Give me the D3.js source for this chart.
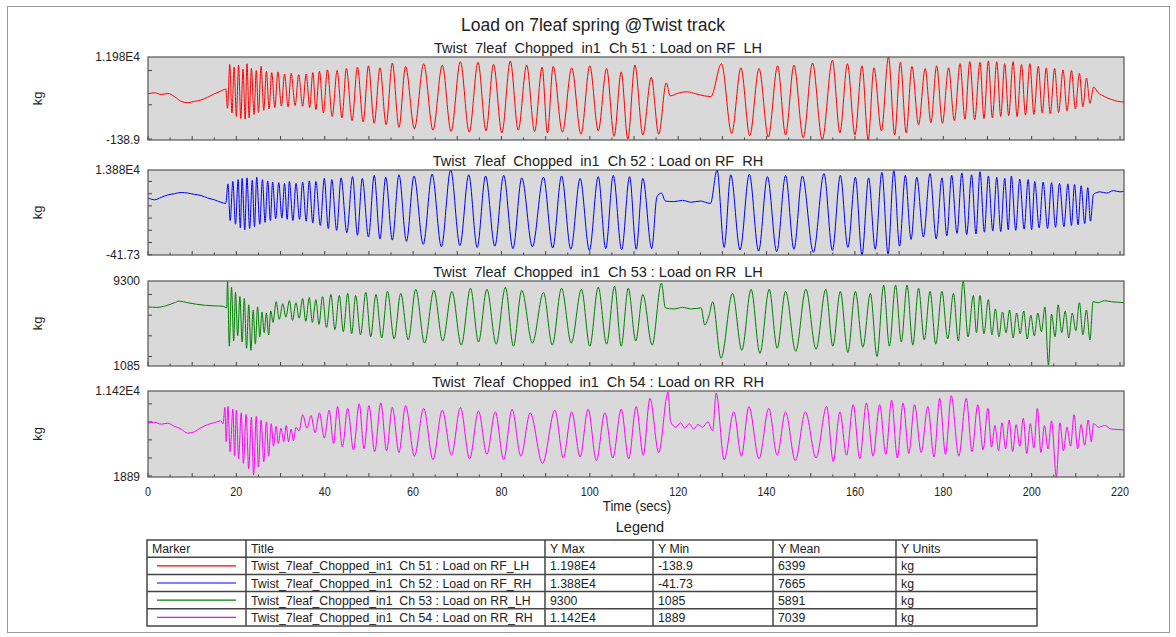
<!DOCTYPE html>
<html>
<head>
<meta charset="utf-8">
<script src="https://cdn.jsdelivr.net/npm/d3@7"></script>
<style>
body { margin: 0; background: #fff; }
text { font-family: "Liberation Sans", Arial, sans-serif; fill: #222; }
</style>
</head>
<body>
<svg id="chart" width="1176" height="637"></svg>
<script>
// ---- data (time in s, load in kg) ----
var chartTitle = "Load on 7leaf spring @Twist track";
var subTitles = [
    "Twist  7leaf  Chopped  in1  Ch 51 : Load on RF  LH",
    "Twist  7leaf  Chopped  in1  Ch 52 : Load on RF  RH",
    "Twist  7leaf  Chopped  in1  Ch 53 : Load on RR  LH",
    "Twist  7leaf  Chopped  in1  Ch 54 : Load on RR  RH"
];
var legendTitles = [
    "Twist_7leaf_Chopped_in1  Ch 51 : Load on RF_LH",
    "Twist_7leaf_Chopped_in1  Ch 52 : Load on RF_RH",
    "Twist_7leaf_Chopped_in1  Ch 53 : Load on RR_LH",
    "Twist_7leaf_Chopped_in1  Ch 54 : Load on RR_RH"
];
var yMax = [11980, 13880, 9300, 11420];
var yMin = [-138.9, -41.73, 1085, 1889];
var yMaxText = ["1.198E4", "1.388E4", "9300", "1.142E4"];
var yMinText = ["-138.9", "-41.73", "1085", "1889"];
var yMeanText = ["6399", "7665", "5891", "7039"];
var yUnits = ["kg", "kg", "kg", "kg"];
var xTicks = [0, 20, 40, 60, 80, 100, 120, 140, 160, 180, 200, 220];
var legendHeader = ["Marker", "Title", "Y Max", "Y Min", "Y Mean", "Y Units"];

var rfLH = [[0,6600],[1.5,6750],[3,6500],[4.5,6650],[6,6200],[7.5,5500],[9,5300],[10.5,5500],[12,5700],[13.5,6100],[15,6600],[16.5,7000],[17.6,7300],
[18.0,4500],[18.5,10900],[19.0,3800],[19.5,10500],[20.0,3300],[20.5,10800],[21.0,3000],[21.5,10200],[22.0,2900],[22.4,11000],[22.9,3100],[23.4,10300],[24.0,3600],[24.5,10000],[25.0,3900],[25.6,10600],[26.2,4200],[26.8,9900],[27.4,4400],[28.0,9700],[28.7,4600],[29.4,9800],[30.2,4800],[30.9,9500],[31.7,4700],[32.4,9600],[33.3,4900],[34.1,9400],[35.0,4800],[35.8,9500],[36.6,4600],[37.3,9700],[38.0,4300],[38.8,9900],[39.7,3800],[40.6,10100],[41.7,3300],[42.8,10000],[43.9,3100],[44.9,10300],[46.2,2700],[47.4,10500],[48.7,2500],[49.9,10700],[51.2,2300],[52.5,10400],[53.9,2100],[55.3,11100],[56.8,1700],[58.3,10600],[60.3,1500],[62.4,11000],[64.5,1300],[66.6,10800],[68.6,1100],[70.7,11300],[72.7,1000],[74.7,11200],[76.5,1200],[78.2,10900],[80.1,900],[82.0,11400],[83.8,1300],[85.7,10800],[87.5,1100],[89.2,10500],[90.4,900],[91.7,10600],[93.8,1000],[95.9,10400],[98.0,700],[100.0,10700],[101.9,1200],[103.8,10300],[105.5,400],[107.1,9800],[108.6,0],[110.2,10800],[112.0,600],[113.9,9000],[115.6,700],[117.3,8200],[118.2,6300],[120,6700],[122,6900],[124,6600],[126,6300],[127.4,6200],
[129.8,11000],[132.1,800],[134.2,10400],[136.2,500],[138.3,10300],[140.4,300],[142.5,10700],[144.3,600],[146.2,10800],[148.3,200],[150.4,11100],[152.6,-100],[154.9,11500],[156.6,900],[158.3,11000],[160.0,600],[161.6,10700],[163.0,-139],[164.3,10400],[166.0,1200],[167.6,11980],[169.0,600],[170.3,11200],[171.6,900],[172.9,10600],[174.4,2100],[175.9,10300],[177.2,2400],[178.5,10700],[179.8,2300],[181.2,10400],[182.5,2700],[183.8,11000],[184.9,2900],[186.0,11300],[187.1,2800],[188.3,11200],[189.2,3000],[190.2,11400],[191.1,3100],[192.1,11300],[193.0,3300],[193.9,11000],[194.8,3400],[195.8,11300],[196.7,3300],[197.7,10900],[198.6,3500],[199.6,11000],[200.5,3600],[201.5,10600],[202.4,3800],[203.3,10400],[204.2,3700],[205.2,10300],[206.1,3900],[207.1,10100],[208.0,4100],[209.0,10000],[209.9,4400],[210.8,9600],[211.6,4700],[212.4,8900],[213.2,5200],[214,7600],[215,6800],[216.5,6200],[218,5800],[219.5,5500],[221,5400]];

var rfRH = [[0,9300],[1.5,9000],[3,9400],[4.5,9800],[6,10000],[7.5,10200],[9,10100],[10.5,9900],[12,9700],[13.5,9300],[15,9000],[16.5,8600],[17.6,8400],
[18.1,11600],[18.6,5600],[19.2,12000],[19.8,5000],[20.4,12300],[20.9,4400],[21.3,12500],[21.9,4100],[22.4,12600],[23.0,4300],[23.6,12200],[24.1,4600],[24.6,12700],[25.3,5000],[25.9,12300],[26.5,5300],[27.1,12100],[27.7,5600],[28.2,11900],[28.9,5900],[29.6,11800],[30.3,6000],[30.9,11700],[31.5,5800],[32.0,12000],[32.8,5600],[33.5,11700],[34.3,5800],[35.0,11900],[35.8,5500],[36.5,12100],[37.3,5200],[38.0,12000],[39.0,4800],[39.9,12500],[40.8,4300],[41.6,12300],[42.7,4000],[43.7,12600],[45.0,3600],[46.3,12800],[47.4,3200],[48.5,12500],[49.9,2900],[51.2,13000],[52.5,2600],[53.8,12700],[55.3,2400],[56.8,13100],[58.5,2200],[60.2,12900],[62.3,1700],[64.3,13200],[66.4,1300],[68.5,13900],[70.6,1500],[72.6,13100],[74.5,1200],[76.4,12900],[78.5,1400],[80.5,13000],[82.6,1000],[84.6,12600],[87.0,1300],[89.5,12700],[91.6,1100],[93.6,12900],[95.7,900],[97.8,12500],[99.9,700],[101.9,12800],[103.6,1000],[105.3,13000],[107.2,800],[109.0,12800],[110.5,900],[112.0,12500],[114.0,1000],[115.2,9500],[116.2,10100],[117.1,8800],[119,8700],[121,8900],[123,8600],[125,8800],[127.3,8400],
[128.8,13880],[130.4,1200],[131.9,13100],[134.0,800],[136.1,13200],[138.2,600],[140.2,12800],[142.3,500],[144.3,13000],[146.2,900],[148.1,12900],[150.6,400],[153.0,13300],[154.9,700],[156.7,13000],[158.4,1200],[160.1,12700],[161.6,-42],[163.1,12600],[164.6,900],[166.1,13500],[167.5,100],[168.8,13800],[170.1,1400],[171.4,13000],[172.7,2500],[174.0,12700],[175.5,2900],[177.0,13300],[178.4,2600],[179.7,12600],[180.8,3100],[181.9,13000],[183.1,3500],[184.2,13400],[185.3,3300],[186.4,13100],[187.4,3400],[188.3,13600],[189.3,3700],[190.2,12900],[191.2,3900],[192.1,12700],[193.0,3800],[193.9,12500],[194.7,4100],[195.4,12900],[196.4,4000],[197.3,12400],[198.3,4200],[199.2,12300],[200.0,4100],[200.7,12000],[201.7,4400],[202.6,11900],[203.6,4300],[204.5,11800],[205.4,4500],[206.3,11700],[207.3,4600],[208.2,11600],[209.0,4800],[209.7,11500],[210.5,4900],[211.2,11300],[212.0,5100],[212.7,11000],[213.3,5500],[214.0,9900],[215.5,10300],[217,10100],[218.5,10500],[220,10300],[221,10400]];

var rrLH = [[0,6800],[2,6750],[4,6900],[6,7200],[7,7350],[9,7200],[11,7050],[13,6950],[15,6900],[17,6850],[17.8,6700],
[18.0,9300],[18.4,3000],[18.9,8700],[19.4,3500],[19.8,8200],[20.3,4000],[20.8,7800],[21.3,3400],[21.8,7600],[22.3,2800],[22.8,7000],[23.3,2600],[23.8,6500],[24.3,3200],[24.8,6800],[25.3,3900],[25.8,6300],[26.3,4300],[26.8,6200],[27.3,4100],[27.8,6400],[28.3,5300],[29.0,7300],[29.7,5600],[30.5,7100],[31.2,5800],[32.0,7400],[32.7,5500],[33.5,7200],[34.2,5700],[35.0,7600],[35.7,5400],[36.5,7700],[37.2,5300],[38.0,7500],[38.7,5100],[39.5,7800],[40.4,4800],[41.4,8000],[42.3,4600],[43.3,7900],[44.2,4400],[45.2,8100],[46.1,4200],[47.0,7900],[48.1,4100],[49.3,8200],[50.4,3900],[51.6,8000],[52.9,3800],[54.2,8300],[55.7,3700],[57.2,8100],[58.9,3600],[60.6,8500],[62.6,3300],[64.7,8400],[66.7,3500],[68.8,8300],[70.9,3100],[73.0,8600],[74.8,3400],[76.7,8500],[78.8,3200],[80.9,8700],[82.7,3000],[84.6,8400],[87.0,3300],[89.5,8200],[91.5,3100],[93.6,8600],[95.8,3300],[98.1,8500],[100.0,3000],[101.9,8700],[103.8,3200],[105.6,8800],[107.1,3000],[108.7,8600],[110.4,3500],[112.0,8000],[114.1,3100],[116.2,9100],[117.1,6700],[119,6600],[121,6750],[123,6600],[125.2,6700],[126.0,5050],[127.0,6000],[127.8,7300],[129.7,1830],[132.3,8100],[134.4,2600],[136.5,8500],[138.5,2300],[140.6,8500],[142.4,2800],[144.3,8300],[146.6,2500],[148.9,8500],[151.2,2700],[153.4,8500],[155.0,3000],[156.7,8300],[158.4,2400],[160.1,8300],[161.8,2900],[163.5,8100],[165.0,2000],[166.5,8900],[167.8,3000],[169.2,8900],[170.5,3400],[171.8,8900],[173.1,3100],[174.4,8600],[175.7,3600],[177.0,8300],[178.3,3200],[179.7,8300],[181.0,3700],[182.3,8100],[183.4,3500],[184.5,9300],[185.6,3900],[186.8,7900],[187.5,4300],[188.3,7900],[189.2,4200],[190.2,7500],
[191.0,4100],[191.8,6600],[192.6,3900],[193.4,6300],[194.2,4300],[195.0,6500],[195.8,3800],[196.6,6200],[197.4,4200],[198.2,6400],[199.0,3700],[199.8,6000],[200.6,4000],[201.4,6200],[202.2,4400],[203.0,6800],[203.8,1180],[204.5,6100],[205.3,3900],[206.0,7000],[206.8,4300],[207.6,6400],[208.4,3800],[209.2,6200],[210.0,4500],[210.8,7200],[211.6,4100],[212.4,6500],[213.2,3600],[213.9,7300],[215,7200],[216.5,7400],[218,7300],[219.5,7250],[221,7200]];

var rrRH = [[0,7850],[1.5,7950],[3,7750],[4.5,7850],[6,7500],[7.5,7200],[9,6750],[10.5,6900],[12,7350],[13.5,7700],[15,7900],[16.5,8100],[17.0,7800],
[17.4,9600],[17.7,5800],[18.1,9700],[18.6,4700],[19.2,9400],[19.6,4200],[20.0,9300],[20.5,3900],[21.1,9000],[21.6,3400],[22.2,8800],[22.8,2800],[23.4,8500],[23.9,2110],[24.5,8600],[25.0,3000],[25.6,8200],[26.2,3600],[26.8,8000],[27.3,4200],[27.9,7800],[28.4,5300],[29.0,7500],[29.5,5600],[30.1,7300],[30.7,5800],[31.3,7600],[31.8,5800],[32.4,7200],[32.9,5900],[33.5,7400],[34.2,7000],[35.0,8800],[36.0,7300],[36.9,8700],[37.8,6800],[38.8,9000],[39.9,6200],[41.0,9300],[42.0,5600],[42.9,9700],[44.0,5200],[45.2,9500],[46.5,4900],[47.8,10000],[48.9,5000],[50.0,9800],[51.3,4700],[52.7,10100],[54.0,4800],[55.3,9600],[56.8,4600],[58.3,9800],[60.3,4200],[62.4,9500],[64.5,3800],[66.6,9300],[68.7,4300],[70.7,9600],[72.8,3900],[74.8,9200],[76.7,4400],[78.6,9100],[80.5,3800],[82.4,9400],[84.4,4200],[86.5,9000],[89.3,3400],[92.1,9300],[94.0,4000],[95.9,9100],[97.8,4100],[99.6,9400],[101.5,3700],[103.4,9000],[105.2,4000],[107.1,9400],[108.8,3900],[110.5,9700],[112.1,4300],[113.6,10600],[115.6,4600],[117.7,11300],[118.3,8000],[119.5,7400],[120.5,7900],[121.5,7300],[122.5,7800],[123.5,7200],[124.5,7700],[125.5,7400],[126.7,8000],[127.8,7000],[128.6,11200],[130.4,3800],[132.6,9100],[134.3,4200],[136.0,9700],[138.3,3900],[140.5,9500],[142.4,4300],[144.3,9100],[146.5,3700],[148.8,9100],[151.2,4000],[153.6,9700],[155.1,3600],[156.6,9100],[158.1,4300],[159.6,9900],[161.1,3900],[162.6,10100],[164.1,4200],[165.6,9900],[167.0,4400],[168.3,10400],[169.6,4000],[170.9,10100],[172.2,4500],[173.5,9900],[175.0,4600],[176.5,9700],[177.9,4100],[179.2,10600],[180.5,4400],[181.8,10900],[183.5,4200],[185.2,10600],[186.5,4700],[187.8,9900],[189.0,4900],[190.1,9500],
[190.9,5200],[191.7,7600],[192.5,4800],[193.3,7900],[194.1,5000],[194.9,8200],[195.7,4700],[196.5,7700],[197.3,5300],[198.1,8400],[198.9,4500],[199.7,7800],[200.5,5100],[201.3,9500],[202.1,4600],[202.9,7600],[203.7,5000],[204.5,8100],[205.6,1890],[206.4,7900],[207.2,4800],[208.0,7400],[208.8,5300],[209.6,8800],[210.4,5000],[211.2,7700],[212.0,5400],[212.8,8200],[213.5,5800],[214.0,7800],[215.2,7400],[216.5,7600],[218,7200],[219.5,7150],[221,7100]];

var channels = [rfLH, rfRH, rrLH, rrRH];
var colors = ["#ff0000", "#0000ff", "#008000", "#ff00ff"];

// ---- layout ----
var svg = d3.select("#chart");
var plotLeft = 148, plotRight = 1124;
var panelTop = [57, 170, 281, 391];
var panelBottom = [140, 255, 366, 477];
var tickCounts = [3, 7, 4, 5];

var x = d3.scaleLinear().domain([0, 220.9]).range([plotLeft, plotRight]);

svg.append("rect")
    .attr("x", 7.5).attr("y", 6.5)
    .attr("width", 1162).attr("height", 626)
    .attr("fill", "#fff").attr("stroke", "#999");

svg.append("text")
    .attr("x", 593).attr("y", 31)
    .attr("text-anchor", "middle")
    .style("font-size", "17.5px")
    .text(chartTitle);

channels.forEach(function(data, i){
    var top = panelTop[i], bottom = panelBottom[i];
    var y = d3.scaleLinear().domain([yMin[i], yMax[i]]).range([bottom, top]);
    var g = svg.append("g");

    g.append("clipPath").attr("id", "clip" + i)
        .append("rect")
        .attr("x", plotLeft).attr("y", top)
        .attr("width", plotRight - plotLeft).attr("height", bottom - top);

    g.append("rect")
        .attr("x", plotLeft).attr("y", top)
        .attr("width", plotRight - plotLeft).attr("height", bottom - top)
        .attr("fill", "#d9d9d9");

    // inner ticks
    var minor = d3.range(0, 221, 5);
    g.selectAll(".xt").data(minor).enter().append("line")
        .attr("x1", function(d){ return x(d); }).attr("x2", function(d){ return x(d); })
        .attr("y1", bottom).attr("y2", function(d){ return d % 10 === 0 ? bottom - 4 : bottom - 2.5; })
        .attr("stroke", "#444");
    g.selectAll(".yt").data(y.ticks(tickCounts[i])).enter().append("line")
        .attr("x1", plotLeft).attr("x2", plotLeft + 4)
        .attr("y1", function(d){ return y(d); }).attr("y2", function(d){ return y(d); })
        .attr("stroke", "#444");

    var line = d3.line()
        .x(function(d){ return x(d[0]); })
        .y(function(d){ return y(d[1]); })
        .curve(d3.curveMonotoneX);

    g.append("path")
        .datum(data)
        .attr("clip-path", "url(#clip" + i + ")")
        .attr("d", line)
        .attr("fill", "none")
        .attr("stroke", colors[i])
        .attr("stroke-width", 1);

    g.append("rect")
        .attr("x", plotLeft).attr("y", top)
        .attr("width", plotRight - plotLeft).attr("height", bottom - top)
        .attr("fill", "none").attr("stroke", "#555").attr("stroke-width", 1.2);

    g.append("text")
        .attr("x", 598).attr("y", top - 4)
        .attr("text-anchor", "middle")
        .style("font-size", "14.5px")
        .style("white-space", "pre")
        .text(subTitles[i]);

    g.append("text")
        .attr("x", 140).attr("y", top + 4)
        .attr("text-anchor", "end")
        .style("font-size", "12px")
        .text(yMaxText[i]);
    g.append("text")
        .attr("x", 140).attr("y", bottom + 4)
        .attr("text-anchor", "end")
        .style("font-size", "12px")
        .text(yMinText[i]);

    g.append("text")
        .attr("transform", "translate(42," + ((top + bottom) / 2) + ") rotate(-90)")
        .attr("text-anchor", "middle")
        .style("font-size", "13px")
        .text(yUnits[i]);
});

// x tick labels under the last panel (narrow face)
svg.selectAll(".xl").data(xTicks).enter().append("text")
    .attr("transform", function(d){ return "translate(" + x(d) + ",496) scale(0.8,1)"; })
    .attr("text-anchor", "middle")
    .style("font-size", "13.5px")
    .text(function(d){ return d; });

svg.append("text")
    .attr("transform", "translate(637,511) scale(0.88,1)")
    .attr("text-anchor", "middle")
    .style("font-size", "15px")
    .text("Time (secs)");

svg.append("text")
    .attr("x", 640).attr("y", 532)
    .attr("text-anchor", "middle")
    .style("font-size", "14.5px")
    .text("Legend");

// ---- legend table ----
var colX = [147, 246, 545, 653, 773, 896, 1037];
var rowY = [540, 557.2, 574.4, 591.6, 608.8, 626];
var tbl = svg.append("g");

tbl.append("rect")
    .attr("x", colX[0]).attr("y", rowY[0])
    .attr("width", colX[6] - colX[0]).attr("height", rowY[5] - rowY[0])
    .attr("fill", "#fff").attr("stroke", "#444").attr("stroke-width", 1.5);
tbl.selectAll(".cv").data(colX.slice(1, 6)).enter().append("line")
    .attr("x1", function(d){ return d; }).attr("x2", function(d){ return d; })
    .attr("y1", rowY[0]).attr("y2", rowY[5])
    .attr("stroke", "#444").attr("stroke-width", 1.5);
tbl.selectAll(".rh").data(rowY.slice(1, 5)).enter().append("line")
    .attr("x1", colX[0]).attr("x2", colX[6])
    .attr("y1", function(d){ return d; }).attr("y2", function(d){ return d; })
    .attr("stroke", "#444").attr("stroke-width", 1.5);

tbl.selectAll(".hd").data(legendHeader).enter().append("text")
    .attr("x", function(d, j){ return colX[j] + 5; })
    .attr("y", rowY[0] + 12.5)
    .style("font-size", "12.3px")
    .text(function(d){ return d; });

legendTitles.forEach(function(t, i){
    var yc = (rowY[i + 1] + rowY[i + 2]) / 2;
    tbl.append("line")
        .attr("x1", 157).attr("x2", 236)
        .attr("y1", yc).attr("y2", yc)
        .attr("stroke", colors[i]).attr("stroke-width", 1.2);
    var cells = [t, yMaxText[i], yMinText[i], yMeanText[i], yUnits[i]];
    cells.forEach(function(c, j){
        tbl.append("text")
            .attr("x", colX[j + 1] + 5)
            .attr("y", yc + 4.5)
            .style("font-size", "12.3px")
            .style("white-space", "pre")
            .text(c);
    });
});
</script>
</body>
</html>
